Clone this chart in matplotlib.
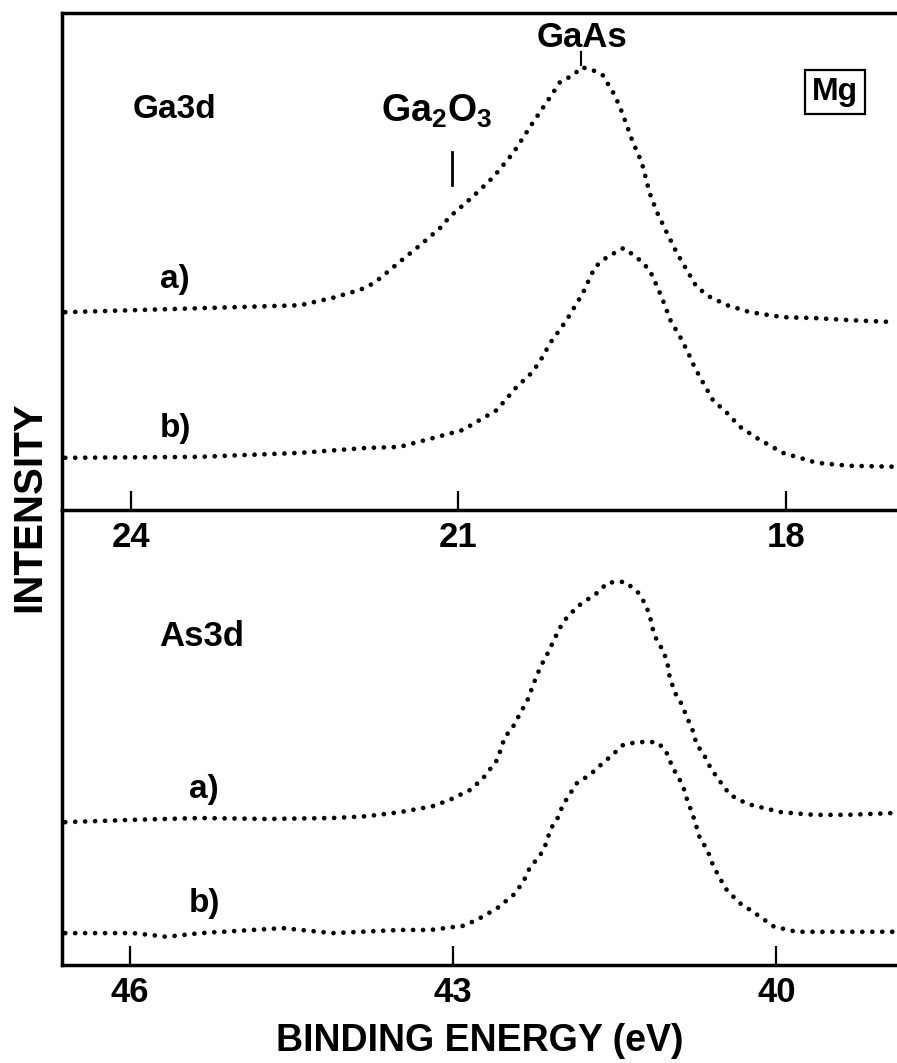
import matplotlib.pyplot as plt

plt.rcParams['font.family'] = ['Liberation Sans', 'DejaVu Sans']
plt.rcParams['font.weight'] = 'bold'
plt.rcParams['mathtext.fontset'] = 'custom'
plt.rcParams['mathtext.rm'] = 'Liberation Sans:bold'
plt.rcParams['mathtext.default'] = 'rm'

# Ga3d spectra: binding energy (eV) vs intensity (arb. units, offset curves)
ga_e_a = [24.60, 23.37, 22.45, 22.15, 21.90, 21.77, 21.54, 21.35, 21.17, 21.08,
          20.87, 20.68, 20.50, 20.32, 20.16, 20.07, 19.95, 19.87, 19.77, 19.68,
          19.57, 19.50, 19.41, 19.32, 19.25, 19.18, 19.09, 19.00, 18.91, 18.82,
          18.70, 18.54, 18.33, 18.03, 17.72, 17.42, 17.00]
ga_i_a = [39.8, 40.6, 41.2, 42.7, 44.3, 45.7, 49.9, 53.3, 56.7, 59.0,
          63.0, 67.0, 71.8, 77.9, 83.1, 86.1, 87.5, 89.1, 88.5, 87.5,
          83.5, 79.9, 74.4, 69.8, 63.8, 59.8, 55.7, 51.7, 48.3, 44.9,
          42.9, 41.2, 39.8, 38.8, 38.6, 38.2, 37.8]
ga_e_b = [24.60, 23.37, 22.45, 21.84, 21.54, 21.23, 20.96, 20.65, 20.47, 20.32,
          20.23, 20.16, 20.01, 19.86, 19.75, 19.64, 19.49, 19.37, 19.25, 19.18,
          19.13, 19.06, 18.97, 18.90, 18.84, 18.76, 18.67, 18.54, 18.42, 18.27,
          18.03, 17.72, 17.42, 16.98]
ga_i_b = [10.5, 10.7, 11.5, 12.5, 12.7, 14.5, 16.1, 20.1, 24.7, 27.8,
          30.8, 33.6, 38.2, 43.7, 48.9, 50.9, 52.7, 50.9, 48.3, 44.9,
          42.3, 38.2, 34.8, 31.8, 28.8, 25.6, 22.1, 19.5, 16.7, 14.5,
          11.5, 9.5, 8.9, 8.7]

# As3d spectra
as_e_a = [46.60, 45.97, 45.35, 44.73, 44.12, 43.80, 43.49, 43.19, 43.03, 42.84,
          42.72, 42.59, 42.52, 42.45, 42.40, 42.31, 42.24, 42.19, 42.12, 42.05,
          41.98, 41.85, 41.76, 41.65, 41.57, 41.48, 41.40, 41.28, 41.21, 41.17,
          41.14, 41.10, 41.05, 41.01, 40.99, 40.94, 40.88, 40.83, 40.77, 40.74,
          40.68, 40.61, 40.54, 40.43, 40.27, 39.96, 39.65, 39.34, 38.91]
as_i_a = [31.4, 31.9, 32.3, 32.1, 32.3, 32.7, 33.6, 34.9, 36.3, 38.5,
          41.1, 45.1, 50.1, 52.1, 54.3, 58.2, 62.6, 65.5, 68.6, 72.1,
          75.4, 78.7, 80.2, 82.0, 84.0, 84.2, 84.2, 81.8, 79.1, 76.3,
          73.2, 70.8, 69.2, 66.2, 63.3, 59.8, 57.4, 54.5, 51.2, 48.4,
          46.6, 43.3, 40.9, 37.4, 35.4, 33.6, 33.0, 33.0, 33.4]
as_e_b = [46.60, 45.97, 45.81, 45.66, 45.35, 44.58, 44.12, 43.49, 43.21, 42.91,
          42.78, 42.59, 42.44, 42.35, 42.29, 42.19, 42.13, 42.10, 42.03, 41.98,
          41.91, 41.85, 41.73, 41.61, 41.52, 41.42, 41.29, 41.11, 41.03, 40.96,
          40.87, 40.83, 40.76, 40.71, 40.64, 40.60, 40.53, 40.46, 40.34, 40.21,
          40.02, 39.81, 39.50, 39.18, 38.91]
as_i_b = [7.0, 7.0, 6.6, 6.2, 7.0, 8.1, 7.0, 7.7, 7.7, 8.6,
          9.9, 12.5, 15.4, 18.2, 21.3, 24.2, 27.0, 29.7, 32.3, 35.2,
          37.8, 40.0, 41.8, 44.4, 46.2, 48.4, 49.0, 49.0, 47.3, 43.3,
          39.6, 36.5, 31.9, 27.9, 25.3, 22.6, 19.3, 16.5, 13.6, 11.6,
          8.4, 7.3, 7.3, 7.3, 7.3]

ga_ticks = [24, 21, 18]
as_ticks = [46, 43, 40]

# peak markers (energy, marker bottom, marker top)
ga2o3_pos = (21.06, 65.4, 72.0)
gaas_pos = (19.88, 89.5, 92.2)

fig = plt.figure(figsize=(8.97, 10.63), dpi=100)
ax2 = fig.add_axes([0.0691, 0.0922, 0.9309, 0.4280])
ax1 = fig.add_axes([0.0691, 0.5202, 0.9309, 0.4676])
ax2.patch.set_visible(False)
ax1.patch.set_visible(False)

dot_style = dict(color='black', lw=3.4, linestyle=(0, (0.01, 2.1)),
                 dash_capstyle='round', solid_capstyle='round')

ax1.plot(ga_e_a, ga_i_a, **dot_style)
ax1.plot(ga_e_b, ga_i_b, **dot_style)
ax2.plot(as_e_a, as_i_a, **dot_style)
ax2.plot(as_e_b, as_i_b, **dot_style)

ax1.set_xlim(24.63, 16.985)
ax1.set_ylim(0, 100)
ax2.set_xlim(46.63, 38.88)
ax2.set_ylim(0, 100)

for ax, ticks in ((ax1, ga_ticks), (ax2, as_ticks)):
    ax.set_xticks(ticks)
    ax.set_yticks([])
    ax.tick_params(axis='x', direction='in', length=14, width=1.6,
                   labelsize=25, pad=8)
    ax.spines['right'].set_visible(False)
    for s in ('left', 'top', 'bottom'):
        ax.spines[s].set_linewidth(2.5)
    for lab in ax.get_xticklabels():
        lab.set_fontweight('bold')
ax2.spines['top'].set_visible(False)

# labels inside panels
ax1.text(23.60, 80.5, 'Ga3d', fontsize=24, ha='center', va='center')
ax1.text(23.60, 46.3, 'a)', fontsize=24, ha='center', va='center')
ax1.text(23.59, 16.5, 'b)', fontsize=24, ha='center', va='center')
ax1.text(21.20, 78.1, r'Ga$_2$O$_3$', fontsize=27, ha='center', va='baseline')
ax1.plot([ga2o3_pos[0]] * 2, ga2o3_pos[1:], color='black', lw=2)
ax1.text(19.87, 93.2, 'GaAs', fontsize=25, ha='center', va='baseline')
ax1.plot([gaas_pos[0]] * 2, gaas_pos[1:], color='black', lw=1.5)
ax1.text(17.55, 84.1, 'Mg', fontsize=23, ha='center', va='center',
         bbox=dict(boxstyle='square,pad=0.22', fc='white', ec='black', lw=1.6))

ax2.text(45.33, 72.1, 'As3d', fontsize=25, ha='center', va='center')
ax2.text(45.31, 38.5, 'a)', fontsize=24, ha='center', va='center')
ax2.text(45.31, 13.6, 'b)', fontsize=24, ha='center', va='center')

ax2.set_xlabel('BINDING ENERGY (eV)', fontsize=27, fontweight='bold', labelpad=10)
fig.text(29 / 897, 1 - 507 / 1063, 'INTENSITY', rotation=90, fontsize=29,
         fontweight='bold', ha='center', va='center')

fig.savefig('out.png', dpi=100)
